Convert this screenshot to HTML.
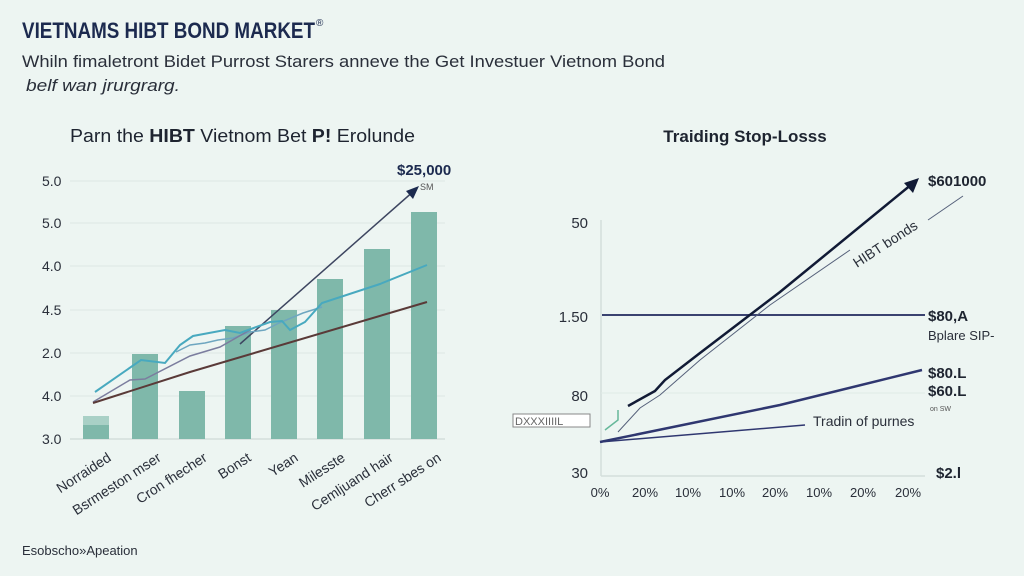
<!DOCTYPE html>
<html><head><meta charset="utf-8"><style>
body{margin:0;width:1024px;height:576px;background:#edf5f2;overflow:hidden;font-family:"Liberation Sans",sans-serif}
svg{position:absolute;left:0;top:0}
</style></head><body>
<svg width="1024" height="576" viewBox="0 0 1024 576" font-family="Liberation Sans, sans-serif">
<rect width="1024" height="576" fill="#edf5f2"/>
<text x="22" y="38" font-size="22" font-weight="bold" fill="#1c2a4f" textLength="293" lengthAdjust="spacingAndGlyphs">VIETNAMS HIBT BOND MARKET</text>
<text x="316" y="26" font-size="10" fill="#1c2a4f">®</text>
<text x="22" y="67" font-size="17" fill="#2a2f3a" textLength="643" lengthAdjust="spacingAndGlyphs">Whiln fimaletront Bidet Purrost Starers anneve the Get Investuer Vietnom Bond</text>
<text x="26" y="91" font-size="17" font-style="italic" fill="#2a2f3a" textLength="154" lengthAdjust="spacingAndGlyphs">belf wan jrurgrarg.</text>

<!-- left chart -->
<text x="70" y="142" font-size="18" fill="#1e2430" textLength="345" lengthAdjust="spacingAndGlyphs">Parn the <tspan font-weight="bold">HIBT</tspan> Vietnom Bet <tspan font-weight="bold">P!</tspan> Erolunde</text>
<g font-size="14" fill="#2a2f3a">
<text x="42" y="186">5.0</text><text x="42" y="228">5.0</text><text x="42" y="271">4.0</text>
<text x="42" y="315">4.5</text><text x="42" y="358">2.0</text><text x="42" y="401">4.0</text><text x="42" y="444">3.0</text>
</g>
<g stroke="#dde8e4" stroke-width="1">
<line x1="70" y1="181" x2="445" y2="181"/><line x1="70" y1="223" x2="445" y2="223"/><line x1="70" y1="266" x2="445" y2="266"/>
<line x1="70" y1="310" x2="445" y2="310"/><line x1="70" y1="353" x2="445" y2="353"/><line x1="70" y1="396" x2="445" y2="396"/>
</g>
<line x1="70" y1="439" x2="445" y2="439" stroke="#d3dfdb" stroke-width="1.5"/>
<g fill="#7fb8aa">
<rect x="83" y="416" width="26" height="23" fill="#a9d0c6"/><rect x="83" y="425" width="26" height="14"/>
<rect x="132" y="354" width="26" height="85"/><rect x="179" y="391" width="26" height="48"/>
<rect x="225" y="326" width="26" height="113"/><rect x="271" y="310" width="26" height="129"/>
<rect x="317" y="279" width="26" height="160"/><rect x="364" y="249" width="26" height="190"/>
<rect x="411" y="212" width="26" height="227"/>
</g>
<polyline points="240,344 415,190" fill="none" stroke="#3d4560" stroke-width="1.5"/>
<polygon points="419,186 406,191 413,199" fill="#1c2a4f"/>
<polyline points="176,352 190,345 205,343 218,340 233,338 250,332 265,330 279,323 303,313 322,307" fill="none" stroke="#6ea6c0" stroke-width="1.5"/>
<polyline points="93,402 130,380 145,379 190,356 220,347 250,330" fill="none" stroke="#7b7d9e" stroke-width="1.5"/>
<polyline points="95,392 141,360 165,363 180,345 193,336 225,330 240,333 270,322 282,321 290,330 305,322 322,303 380,284 427,265" fill="none" stroke="#48a9bf" stroke-width="2"/>
<polyline points="93,403 190,372 427,302" fill="none" stroke="#5a3a38" stroke-width="2"/>
<text x="397" y="175" font-size="15" font-weight="bold" fill="#1c2a4f">$25,000</text>
<text x="420" y="190" font-size="9" fill="#555">SM</text>
<g font-size="14" fill="#2a2f3a" text-anchor="end">
<text transform="translate(112,460) rotate(-33)">Norraided</text>
<text transform="translate(162,460) rotate(-33)">Bsrmeston mser</text>
<text transform="translate(208,460) rotate(-33)">Cron fhecher</text>
<text transform="translate(252,460) rotate(-33)">Bonst</text>
<text transform="translate(299,460) rotate(-33)">Yean</text>
<text transform="translate(346,460) rotate(-33)">Milesste</text>
<text transform="translate(394,460) rotate(-33)">Cemljuand hair</text>
<text transform="translate(442,460) rotate(-33)">Cherr sbes on</text>
</g>
<text x="22" y="555" font-size="13" fill="#2a2f3a">Esobscho»Apeation</text>

<!-- right chart -->
<text x="745" y="142" font-size="17" font-weight="bold" fill="#1e2430" text-anchor="middle">Traiding Stop-Losss</text>
<g font-size="15" fill="#2a2f3a" text-anchor="end">
<text x="588" y="228">50</text><text x="588" y="322">1.50</text><text x="588" y="401">80</text><text x="588" y="478">30</text>
</g>
<line x1="601" y1="220" x2="601" y2="476" stroke="#d3dfdb" stroke-width="1.5"/>
<line x1="601" y1="476" x2="925" y2="476" stroke="#d3dfdb" stroke-width="1.5"/>
<line x1="601" y1="393" x2="925" y2="393" stroke="#e0eae6" stroke-width="1"/>
<line x1="602" y1="315" x2="925" y2="315" stroke="#3a4270" stroke-width="2"/>
<polyline points="618,432 640,408 660,395 700,360 770,305 850,250" fill="none" stroke="#55607a" stroke-width="1"/>
<line x1="928" y1="220" x2="963" y2="196" stroke="#55607a" stroke-width="1"/>
<text transform="translate(857,268) rotate(-33)" font-size="14" fill="#2a2f3a">HIBT bonds</text>
<polyline points="628,406 655,391 665,380 700,353 780,292 912,184" fill="none" stroke="#111a35" stroke-width="2.5"/>
<polygon points="919,178 904,183 913,193" fill="#111a35"/>
<polyline points="600,442 780,405 922,370" fill="none" stroke="#2f3770" stroke-width="2.5"/>
<polyline points="600,442 805,425" fill="none" stroke="#2f3770" stroke-width="1.5"/>
<polyline points="605,430 618,420 618,410" fill="none" stroke="#66b89a" stroke-width="1.5"/>
<text x="813" y="426" font-size="14" fill="#2a2f3a">Tradin of purnes</text>
<text x="930" y="411" font-size="7" fill="#555">on SW</text>
<rect x="513" y="414" width="77" height="13" fill="#fff" stroke="#888" stroke-width="1"/>
<text x="515" y="425" font-size="11" fill="#666">DXXXIIIIL</text>
<g font-size="13" fill="#2a2f3a" text-anchor="middle">
<text x="600" y="497">0%</text><text x="645" y="497">20%</text><text x="688" y="497">10%</text><text x="732" y="497">10%</text>
<text x="775" y="497">20%</text><text x="819" y="497">10%</text><text x="863" y="497">20%</text><text x="908" y="497">20%</text>
</g>
<g font-size="15" font-weight="bold" fill="#1e2430">
<text x="928" y="186">$601000</text><text x="928" y="321">$80,A</text>
<text x="928" y="378">$80.L</text><text x="928" y="396">$60.L</text><text x="936" y="478">$2.l</text>
</g>
<text x="928" y="340" font-size="13" fill="#2a2f3a">Bplare SIP-</text>
</svg>
</body></html>
